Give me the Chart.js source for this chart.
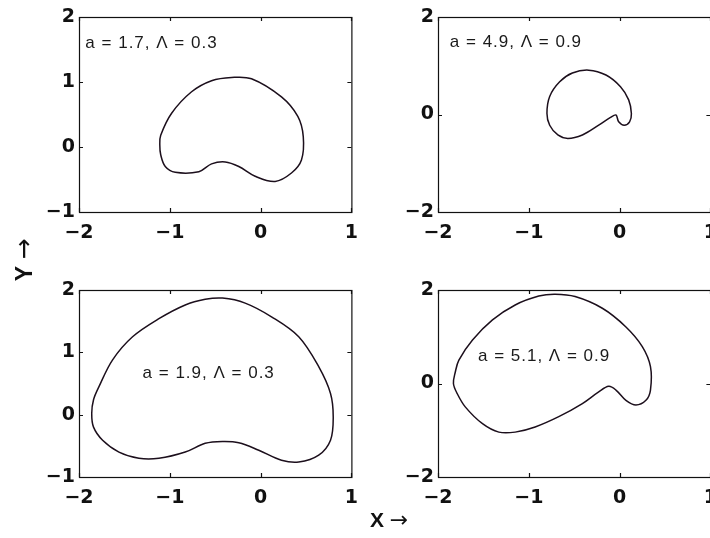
<!DOCTYPE html>
<html>
<head>
<meta charset="utf-8">
<script src="https://cdn.jsdelivr.net/npm/chart.js@4"></script>
<style>
  html, body { margin: 0; padding: 0; background: #fff; width: 710px; height: 538px; overflow: hidden; }
  .panel { position: absolute; }
  .axlabel { position: absolute; font-family: 'Liberation Sans', 'DejaVu Sans', sans-serif; font-weight: bold; color: #111; white-space: nowrap; text-align: center; }
  .axlabel span { font-family: 'DejaVu Sans', sans-serif; font-weight: normal; }
</style>
</head>
<body>
<canvas id="c0" class="panel"></canvas>
<canvas id="c1" class="panel"></canvas>
<canvas id="c2" class="panel"></canvas>
<canvas id="c3" class="panel"></canvas>
<div class="axlabel" style="left:-6px; top:245px; width:60px; height:30px; line-height:30px; font-size:23px; transform: rotate(-90deg);">Y&nbsp;<span style="font-size:25px;">→</span></div>
<div class="axlabel" style="left:370px; top:506px; height:28px; line-height:28px; font-size:21px;">X&nbsp;<span style="font-size:22px;">→</span></div>
<script>
// curve values (each loop closes on itself)
const curveAx = [-1.11, -1.10, -0.98, -0.76, -0.54, -0.32, -0.10, 0.23, 0.41, 0.47, 0.45, 0.34, 0.16, -0.06, -0.24, -0.39, -0.54, -0.68, -0.94, -1.05, -1.10];
const curveAy = [0.03, 0.18, 0.52, 0.85, 1.02, 1.07, 1.05, 0.77, 0.47, 0.16, -0.20, -0.40, -0.53, -0.45, -0.30, -0.23, -0.26, -0.38, -0.39, -0.30, -0.12];

const curveBx = [-0.80, -0.77, -0.66, -0.52, -0.34, -0.15, 0.01, 0.10, 0.13, 0.11, 0.05, -0.01, -0.04, -0.10, -0.23, -0.41, -0.57, -0.68, -0.77];
const curveBy = [0.02, 0.37, 0.67, 0.85, 0.91, 0.81, 0.57, 0.30, 0.02, -0.15, -0.22, -0.15, -0.01, -0.06, -0.22, -0.42, -0.49, -0.42, -0.22];

const curveCx = [-1.86, -1.84, -1.78, -1.63, -1.41, -1.12, -0.83, -0.61, -0.42, -0.17, 0.12, 0.42, 0.64, 0.77, 0.80, 0.77, 0.64, 0.42, 0.23, -0.02, -0.24, -0.42, -0.61, -0.83, -1.12, -1.34, -1.56, -1.74, -1.84];
const curveCy = [0.02, 0.24, 0.45, 0.88, 1.25, 1.54, 1.76, 1.85, 1.87, 1.79, 1.57, 1.25, 0.77, 0.34, -0.04, -0.41, -0.65, -0.76, -0.73, -0.57, -0.45, -0.43, -0.46, -0.60, -0.70, -0.70, -0.60, -0.41, -0.20];

const curveDx = [-1.83, -1.81, -1.77, -1.62, -1.40, -1.15, -0.89, -0.71, -0.49, -0.19, 0.07, 0.25, 0.34, 0.34, 0.29, 0.18, 0.07, -0.04, -0.12, -0.23, -0.41, -0.67, -0.93, -1.15, -1.33, -1.51, -1.70, -1.79];
const curveDy = [0, 0.24, 0.50, 0.93, 1.36, 1.68, 1.87, 1.91, 1.86, 1.61, 1.21, 0.79, 0.36, -0.14, -0.36, -0.46, -0.36, -0.14, -0.06, -0.18, -0.43, -0.71, -0.93, -1.04, -1.04, -0.86, -0.50, -0.21];

const panelLabels = ['a = 1.7, \u039B = 0.3', 'a = 4.9, \u039B = 0.9', 'a = 1.9, \u039B = 0.3', 'a = 5.1, \u039B = 0.9'];
const xRange = [-2, 1];
const yRanges = [[-1, 2], [-2, 2], [-1, 2], [-2, 2]];
const yStepSizes = [1, 2, 1, 2];

// subplot boxes on the page (left, top, right, bottom)
const boxes = [[79, 17, 353, 212], [438, 17, 712, 212], [79, 290, 353, 477], [438, 290, 712, 477]];
// where each text label sits, in data units
const labelAnchors = [[-1.93, 1.60], [-1.87, 1.49], [-1.30, 0.67], [-1.56, 0.59]];

const curves = [[curveAx, curveAy], [curveBx, curveBy], [curveCx, curveCy], [curveDx, curveDy]];

const yAxisW = 75, xAxisH = 45, padTop = 17, padRight = 15;
const lineColor = '#1c0f1c';

function fmtTick(v) {
    return v < 0 ? '\u2212' + Math.abs(v) : String(v);
}

const matlabBox = {
    id: 'matlabBox',
    afterDraw(chart) {
        const { ctx, chartArea: a, scales: { x, y } } = chart;
        const tl = 4;
        ctx.save();
        ctx.strokeStyle = '#111';
        ctx.lineWidth = 1.2;
        ctx.strokeRect(a.left + 0.5, a.top + 0.5, a.right - a.left, a.bottom - a.top);
        ctx.beginPath();
        x.ticks.forEach(t => {
            const px = Math.round(x.getPixelForValue(t.value)) + 0.5;
            ctx.moveTo(px, a.bottom); ctx.lineTo(px, a.bottom - tl);
            ctx.moveTo(px, a.top); ctx.lineTo(px, a.top + tl);
        });
        y.ticks.forEach(t => {
            const py = Math.round(y.getPixelForValue(t.value)) + 0.5;
            ctx.moveTo(a.left, py); ctx.lineTo(a.left + tl, py);
            ctx.moveTo(a.right, py); ctx.lineTo(a.right - tl, py);
        });
        ctx.stroke();

        const lab = chart.options.plugins.matlabBox;
        ctx.fillStyle = '#1a1a1a';
        ctx.font = '17px "Liberation Sans", Arial, sans-serif';
        ctx.letterSpacing = '1px';
        ctx.textAlign = 'left';
        ctx.textBaseline = 'middle';
        ctx.fillText(lab.text, x.getPixelForValue(lab.at[0]), y.getPixelForValue(lab.at[1]));
        ctx.restore();
    }
};

curves.forEach((c, i) => {
    const [L, T, R, B] = boxes[i];
    const canvas = document.getElementById('c' + i);
    canvas.width = (R - L) + yAxisW + padRight;
    canvas.height = (B - T) + padTop + xAxisH;
    canvas.style.left = (L - yAxisW) + 'px';
    canvas.style.top = (T - padTop) + 'px';

    const loop = c[0].map((v, k) => ({ x: v, y: c[1][k] }));
    const n = loop.length;
    // wrap one point on each side so the closed curve stays smooth; those two end segments are hidden
    const points = [loop[n - 1], ...loop, loop[0], loop[1]];
    const last = points.length - 1;

    new Chart(canvas.getContext('2d'), {
        type: 'scatter',
        data: {
            datasets: [{
                data: points,
                showLine: true,
                borderColor: lineColor,
                borderWidth: 1.5,
                pointRadius: 0,
                tension: 0.35,
                fill: false,
                segment: {
                    borderColor: ctx => (ctx.p0DataIndex === 0 || ctx.p1DataIndex === last) ? 'rgba(0,0,0,0)' : lineColor
                }
            }]
        },
        options: {
            responsive: false,
            animation: false,
            layout: { padding: { top: padTop, right: padRight, left: 0, bottom: 0 } },
            plugins: {
                legend: { display: false },
                tooltip: { enabled: false },
                matlabBox: { text: panelLabels[i], at: labelAnchors[i] }
            },
            scales: {
                x: {
                    type: 'linear',
                    min: xRange[0],
                    max: xRange[1],
                    grid: { display: false, drawTicks: false },
                    border: { display: false },
                    ticks: {
                        stepSize: 1,
                        autoSkip: false,
                        maxRotation: 0,
                        padding: 10,
                        color: '#111',
                        font: { family: '"DejaVu Sans", sans-serif', size: 19, weight: 'bold' },
                        callback: fmtTick
                    },
                    afterFit: s => { s.height = xAxisH; }
                },
                y: {
                    type: 'linear',
                    min: yRanges[i][0],
                    max: yRanges[i][1],
                    grid: { display: false, drawTicks: false },
                    border: { display: false },
                    ticks: {
                        stepSize: yStepSizes[i],
                        autoSkip: false,
                        padding: 4,
                        color: '#111',
                        font: { family: '"DejaVu Sans", sans-serif', size: 19, weight: 'bold' },
                        callback: fmtTick
                    },
                    afterFit: s => { s.width = yAxisW; }
                }
            }
        },
        plugins: [matlabBox]
    });
});
</script>
</body>
</html>
